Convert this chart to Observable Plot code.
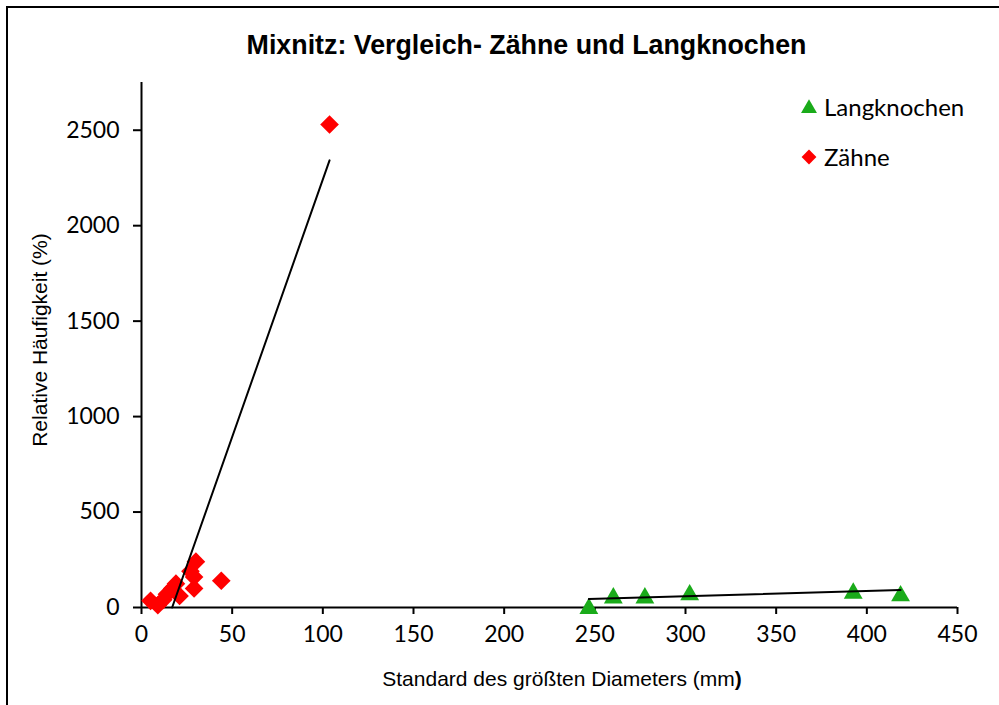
<!DOCTYPE html>
<html><head><meta charset="utf-8">
<script src="https://cdn.jsdelivr.net/npm/d3@7"></script>
<script src="https://cdn.jsdelivr.net/npm/@observablehq/plot@0.6"></script>
<style>
html,body{margin:0;padding:0;background:#fff;overflow:hidden;}
#wrap{position:relative;width:999px;height:705px;overflow:hidden;background:#fff;}
#border{position:absolute;left:6px;top:6px;width:1200px;height:1000px;border:2px solid #000;}
#chart{position:absolute;left:0;top:0;}
.t{position:absolute;white-space:nowrap;transform:translate(-50%,-50%);color:#000;}
#title{left:526.5px;top:45px;font:bold 26.8px "Liberation Sans",Arial,sans-serif;}
#xlab{left:562px;top:679px;font:21px "Liberation Sans",Arial,sans-serif;}
#ylab{left:40px;top:340px;font:21px "Liberation Sans",Arial,sans-serif;transform:translate(-50%,-50%) rotate(-90deg);}
.leg{position:absolute;left:800px;font:24px Lato,sans-serif;display:flex;align-items:center;}
.leg svg{margin-right:6px;}
</style>
</head><body>
<div id="wrap">
<div id="border"></div>
<div id="chart"></div>
<div id="title" class="t">Mixnitz: Vergleich- Zähne und Langknochen</div>
<div id="xlab" class="t">Standard des größten Diameters (mm<b>)</b></div>
<div id="ylab" class="t">Relative Häufigkeit (%)</div>
<div id="legend"></div>
</div>
<script>
// Series: Zähne (teeth)
const zaehneX = [5, 9, 12, 14, 17, 19, 21, 27, 29, 30, 29, 44, 103.7];
const zaehneY = [35, 12, 40, 70, 100, 125, 60, 190, 160, 240, 100, 140, 2530];
// Series: Langknochen (long bones)
const langX = [246.7, 260.2, 277.6, 302.3, 392.5, 418.6];
const langY = [8, 64, 64, 80, 89, 75];
// Linear trendlines (endpoints in data units)
const zaehneTrendX = [16.9, 103.7];
const zaehneTrendY = [0, 2342];
const langTrendX = [246.7, 418.6];
const langTrendY = [44, 92];
// Ticks
const xTicks = [0, 50, 100, 150, 200, 250, 300, 350, 400, 450];
const yTicks = [0, 500, 1000, 1500, 2000, 2500];
const seriesNames = ["Langknochen", "Zähne"];
const seriesColors = ["#1aab1a", "#ff0000"];

const zaehne = zaehneX.map((x, i) => ({x, y: zaehneY[i]}));
const lang = langX.map((x, i) => ({x, y: langY[i]}));
const zTrend = zaehneTrendX.map((x, i) => ({x, y: zaehneTrendY[i]}));
const lTrend = langTrendX.map((x, i) => ({x, y: langTrendY[i]}));

const chart = Plot.plot({
  width: 999, height: 705,
  marginLeft: 141, marginRight: 42, marginTop: 82, marginBottom: 98,
  style: {fontFamily: "Lato, sans-serif", fontSize: "23px", color: "#000", background: "transparent"},
  x: {domain: [0, 450]},
  y: {domain: [0, 2750]},
  marks: [
    Plot.axisX({ticks: xTicks, tickSize: 7, tickPadding: 11, strokeWidth: 2, label: null, tickFormat: d => String(d)}),
    Plot.axisY({ticks: yTicks, tickSize: 8, tickPadding: 14, strokeWidth: 2, label: null, tickFormat: d => String(d)}),
    Plot.ruleY([0], {stroke: "#000", strokeWidth: 2}),
    Plot.ruleX([0], {stroke: "#000", strokeWidth: 2}),
    Plot.dot(lang, {x: "x", y: "y", symbol: "triangle", r: 7, fill: seriesColors[0], dy: 2.7}),
    Plot.dot(zaehne, {x: "x", y: "y", symbol: "diamond2", r: 8.4, fill: seriesColors[1]}),
    Plot.line(zTrend, {x: "x", y: "y", stroke: "#000", strokeWidth: 2}),
    Plot.line(lTrend, {x: "x", y: "y", stroke: "#000", strokeWidth: 2})
  ]
});
document.getElementById("chart").appendChild(chart);

// Legend
const legend = document.getElementById("legend");
const tops = [108, 158];
seriesNames.forEach((name, i) => {
  const row = document.createElement("div");
  row.className = "leg";
  row.style.top = (tops[i] - 16) + "px";
  const s = d3.create("svg").attr("width", 18).attr("height", 18);
  const sym = i === 0 ? d3.symbolTriangle : d3.symbolDiamond2;
  const size = i === 0 ? 110 : 140;
  s.append("path").attr("d", d3.symbol(sym, size)()).attr("transform", i === 0 ? "translate(9,10.5)" : "translate(9,9)").attr("fill", seriesColors[i]);
  row.appendChild(s.node());
  const sp = document.createElement("span");
  sp.textContent = name;
  row.appendChild(sp);
  legend.appendChild(row);
});
</script>
</body></html>
